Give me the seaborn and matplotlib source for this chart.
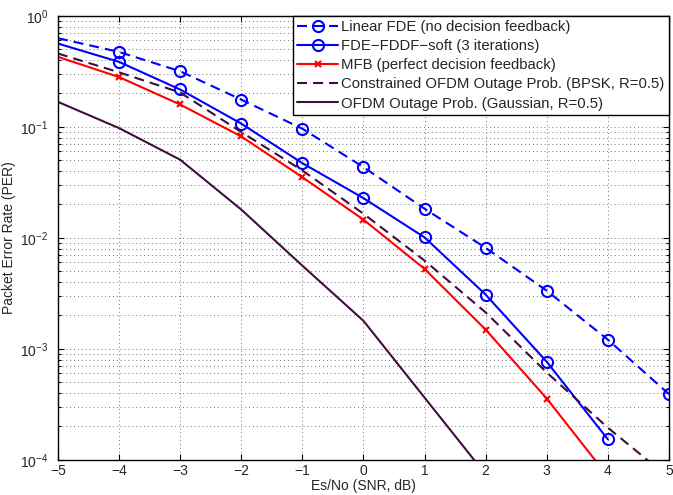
import seaborn as sns
import matplotlib.pyplot as plt
import matplotlib.ticker as mticker
import numpy as np

# SNR grid (dB)
snr = [-5, -4, -3, -2, -1, 0, 1, 2, 3, 4, 5]
snr_fddf = [-5, -4, -3, -2, -1, 0, 1, 2, 3, 4]
snr_mfb = [-5, -4, -3, -2, -1, 0, 1, 2, 3, 4]
snr_gauss = [-5, -4, -3, -2, -1, 0, 1, 2]

per_linear = [0.629, 0.473, 0.317, 0.176, 0.0963, 0.0434, 0.0183, 0.00813, 0.00334, 0.00121, 0.000391]
per_fddf = [0.563, 0.385, 0.217, 0.107, 0.0471, 0.0228, 0.0101, 0.00308, 0.000765, 0.000153]
per_mfb = [0.427, 0.281, 0.159, 0.082, 0.0352, 0.0146, 0.00525, 0.00149, 0.000357, 0.000071]
per_bpsk = [0.458, 0.31, 0.204, 0.0898, 0.0405, 0.0165, 0.00624, 0.00213, 0.000612, 0.000195, 0.000069]
per_gauss = [0.168, 0.0975, 0.0506, 0.018, 0.00562, 0.00179, 0.000364, 0.000074]

labels = ['Linear FDE (no decision feedback)',
          'FDE\u2212FDDF\u2212soft (3 iterations)',
          'MFB (perfect decision feedback)',
          'Constrained OFDM Outage Prob. (BPSK, R=0.5)',
          'OFDM Outage Prob. (Gaussian, R=0.5)']

sns.set_theme(style='ticks')
plt.rcParams['font.family'] = ['Liberation Sans', 'DejaVu Sans']
plt.rcParams['mathtext.default'] = 'regular'
plt.rcParams['xtick.direction'] = 'in'
plt.rcParams['ytick.direction'] = 'in'

purple = (0.25, 0.05, 0.25)
dash = (0, (4.8, 2.9))

fig, ax = plt.subplots(figsize=(6.73, 4.95), dpi=100)
fig.subplots_adjust(left=0.086, right=0.994, top=0.968, bottom=0.071)

sns.lineplot(x=snr, y=per_linear, ax=ax, color='blue', linestyle=dash, lw=1.5,
             marker='o', mfc='none', mec='blue', ms=8, mew=1.5,
             markevery=list(range(1, len(snr))), label=labels[0])
sns.lineplot(x=snr_fddf, y=per_fddf, ax=ax, color='blue', lw=1.5,
             marker='o', mfc='none', mec='blue', ms=8, mew=1.5,
             markevery=list(range(1, len(snr_fddf))), label=labels[1])
sns.lineplot(x=snr_mfb, y=per_mfb, ax=ax, color='red', lw=1.5,
             marker='x', mec='red', ms=5, mew=1.5,
             markevery=list(range(1, len(snr_mfb) - 1)), label=labels[2])
sns.lineplot(x=snr, y=per_bpsk, ax=ax, color=purple, linestyle=dash, lw=1.5,
             label=labels[3])
sns.lineplot(x=snr_gauss, y=per_gauss, ax=ax, color=purple, lw=1.5,
             label=labels[4])

ax.set_yscale('log')
ax.set_xlim(-5, 5)
ax.set_ylim(1e-4, 1)
ax.xaxis.set_major_locator(mticker.MultipleLocator(1))
ax.yaxis.set_major_locator(mticker.LogLocator(base=10, numticks=10))
ax.yaxis.set_minor_locator(mticker.LogLocator(base=10, subs=np.arange(2, 10), numticks=10))
ax.yaxis.set_minor_formatter(mticker.NullFormatter())
ax.tick_params(which='both', top=True, right=True, labelsize=10, width=0.8, color='black')
ax.tick_params(which='major', length=4)
ax.tick_params(which='minor', length=2)
ax.tick_params(axis='x', pad=3)
ax.tick_params(axis='y', which='major', pad=7)

ax.grid(True, which='major', axis='both', color='0.45', linestyle=(0, (1, 3)), lw=0.7)
ax.grid(True, which='minor', axis='y', color='0.45', linestyle=(0, (1, 3)), lw=0.7)
for s in ax.spines.values():
    s.set_color('black')
    s.set_linewidth(1.0)

ax.set_xlabel('Es/No (SNR, dB)', fontsize=10, labelpad=1)
ax.set_ylabel('Packet Error Rate (PER)', fontsize=10, labelpad=3)

leg = ax.legend(loc='upper right', borderaxespad=0, fancybox=False, edgecolor='black',
                framealpha=1, fontsize=10.7, handlelength=2.75, labelspacing=0.34,
                borderpad=0.3, handletextpad=0.2)
leg.get_frame().set_linewidth(1.0)

fig.savefig('out.png', dpi=100)
